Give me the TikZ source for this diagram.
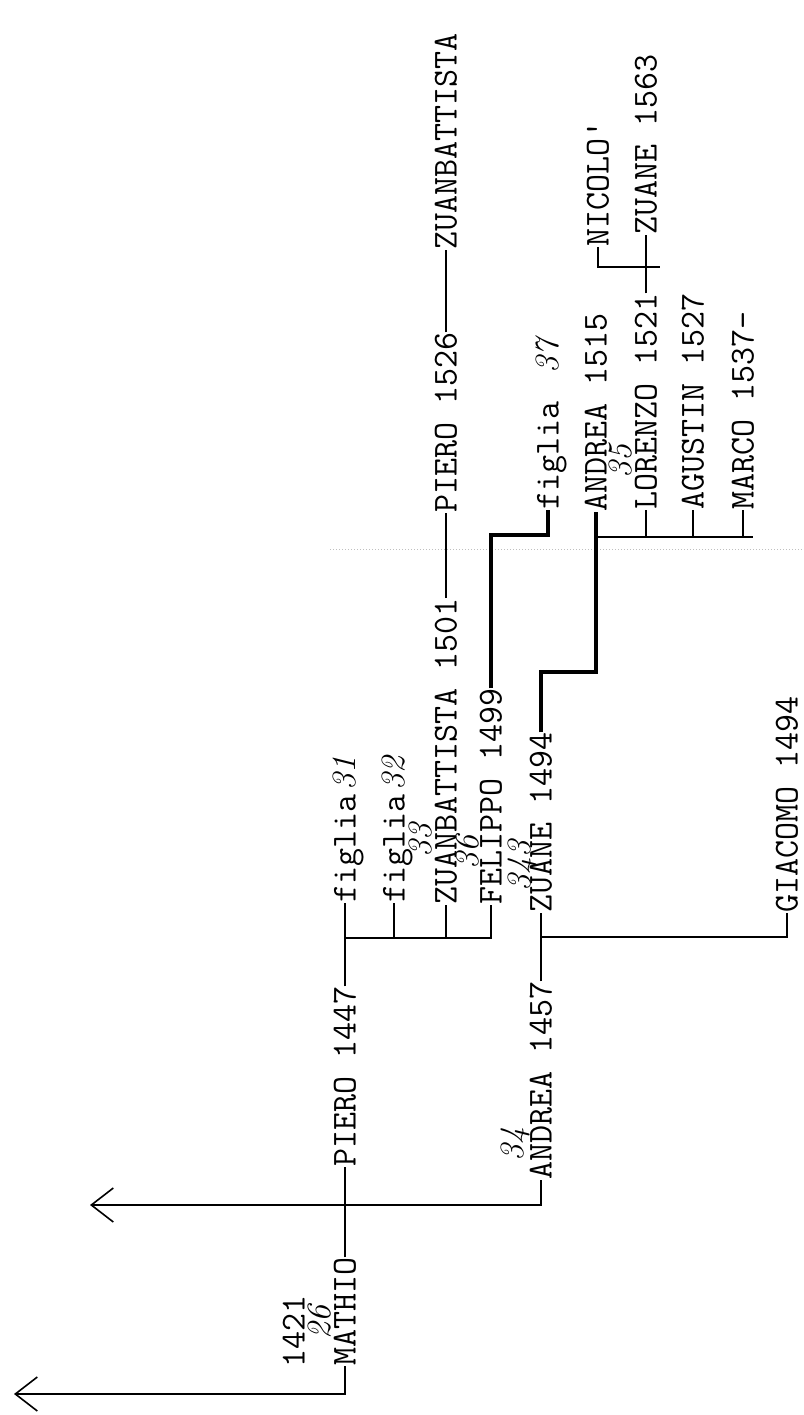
\documentclass[tikz,border=0pt]{standalone}
\usetikzlibrary{arrows.meta}
\newcommand\hw{\fontsize{34}{34}\selectfont\rmfamily\itshape}
\begin{document}
\begin{tikzpicture}[x=1pt,y=-1pt,
  nm/.style={rotate=90,anchor=west,inner sep=0pt,text height=21pt,text depth=0pt,font=\fontsize{35}{35}\selectfont\ttfamily},
  note/.style={rotate=90,anchor=west,inner sep=0pt,text height=20pt,text depth=0pt,font=\hw},
  ln/.style={line width=1.8pt},
  hv/.style={line width=3.2pt},
  arr/.style={ln,-{Straight Barb[length=22pt,width=34pt,line width=1.6pt]}},
  ]
\fill[white] (0,0) rectangle (803,1415);
\useasboundingbox (0,0) rectangle (803,1415);
% faint scan line
\draw[black!25,dotted,line width=1pt] (330,549) -- (803,549);

% names
\node[nm] (y1421) at (294,1368) {1421};
\node[note] (n26) at (320,1340) {26};
\node[nm] (mathio) at (345,1366) {MATHIO};
\node[nm] (piero1447) at (345,1167) {PIERO 1447};
\node[nm] (andrea1457) at (541,1180) {ANDREA 1457};
\node[note] (n34) at (513,1162) {34};
\node[nm] (figlia31) at (345,903) {figlia\hspace{4pt}{\hw 31}};
\node[nm] (figlia32) at (394,903) {figlia\hspace{4pt}{\hw 32}};
\node[note] (n33) at (421,858) {33};
\node[nm] (zuanb1501) at (446,905) {ZUANBATTISTA 1501};
\node[note] (n36) at (468,870) {36};
\node[nm] (felippo) at (491,905) {FELIPPO 1499};
\node[note] (n343) at (520,892) {343};
\node[nm] (zuane1494) at (541,913) {ZUANE 1494};
\node[nm] (giacomo) at (787,913) {GIACOMO 1494};
\node[nm] (piero1526) at (446,513) {PIERO 1526};
\node[nm] (zuanbtop) at (446,250) {ZUANBATTISTA};
\node[nm] (figlia37) at (548,510) {figlia\hspace{28pt}{\hw 37}};
\node[nm] (andrea1515) at (596,512) {ANDREA 1515};
\node[note] (n35) at (621,479) {35};
\node[nm] (lorenzo) at (646,510) {LORENZO 1521};
\node[nm] (agustin) at (693,510) {AGUSTIN 1527};
\node[nm] (marco) at (743,510) {MARCO 1537-};
\node[nm] (nicolo) at (598,247) {NICOLO\textquotesingle};
\node[nm] (zuane1563) at (646,235) {ZUANE 1563};

% free ends and junctions
\coordinate (a1) at (14,1394);
\coordinate (a2) at (90,1205);
\coordinate (bar1) at (345,938);
\coordinate (bar2) at (541,937);
\coordinate (j1) at (548,535);
\coordinate (j2) at (596,672);
\coordinate (bar3) at (596,537);
\coordinate (bar3end) at (753,537);
\coordinate (bar4end) at (660,267);

% connectors
\draw[arr] (mathio.west) |- (a1);
\draw[arr] (andrea1457.west) |- (a2);
\draw[ln] (mathio.east) -- (piero1447.west);
\draw[ln] (piero1447.east) -- (figlia31.west);
\draw[ln] (bar1) -| (figlia32.west);
\draw[ln] (bar1) -| (zuanb1501.west);
\draw[ln] (bar1) -| (felippo.west);
\draw[ln] (andrea1457.east) -- (zuane1494.west);
\draw[ln] (bar2) -| (giacomo.west);
\draw[ln] (zuanb1501.east) -- (piero1526.west);
\draw[ln] (piero1526.east) -- (zuanbtop.west);
\draw[hv] (felippo.east) |- (j1) -- (figlia37.west);
\draw[hv] (zuane1494.east) |- (j2) -- (andrea1515.west);
\draw[ln] (bar3) -- (bar3end);
\draw[ln] (lorenzo.west) -- (lorenzo.west |- bar3);
\draw[ln] (agustin.west) -- (agustin.west |- bar3);
\draw[ln] (marco.west) -- (marco.west |- bar3);
\draw[ln] (lorenzo.east) -- (zuane1563.west);
\draw[ln] (nicolo.west) |- (bar4end);
\end{tikzpicture}
\end{document}
